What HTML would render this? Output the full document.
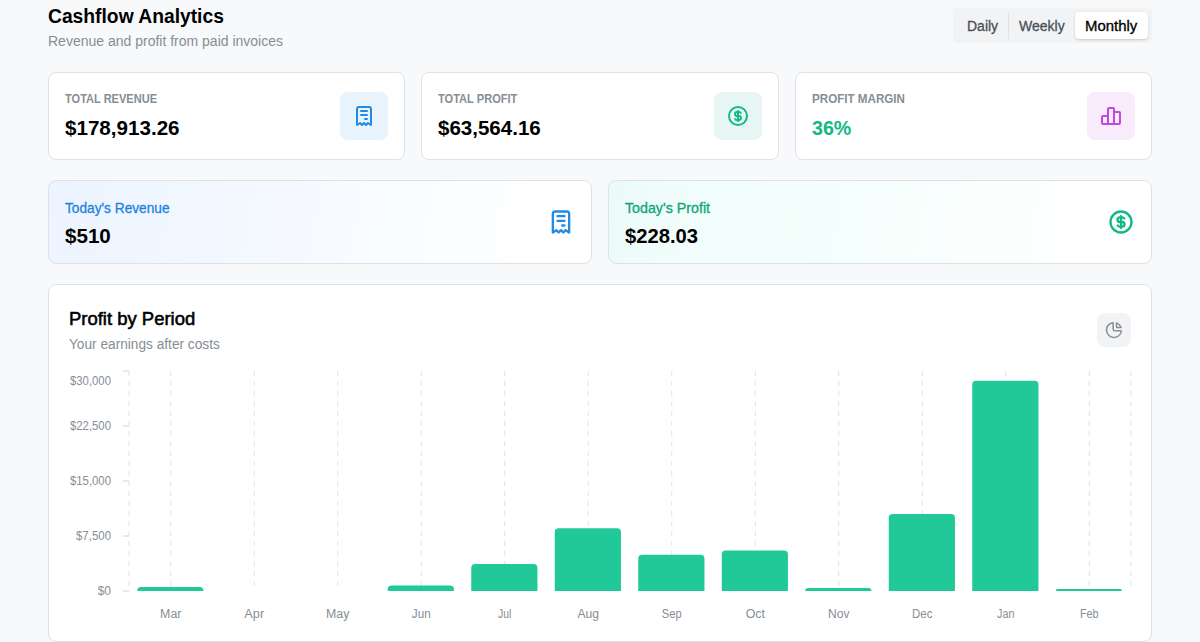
<!DOCTYPE html>
<html><head><meta charset="utf-8"><title>Cashflow Analytics</title>
<style>
*{box-sizing:border-box;margin:0;padding:0}
html,body{width:1200px;height:642px;overflow:hidden;background:#f8f9fa;font-family:"Liberation Sans",sans-serif;color:#000}
.abs{position:absolute}
.t{position:absolute;white-space:nowrap;line-height:1;transform-origin:0 50%}
.card{position:absolute;background:#fff;border:1px solid #dee2e6;border-radius:8px}
.lbl{font-size:12px;font-weight:700;color:#868e96}
.val{font-size:20px;font-weight:700;color:#000}
.ibox{position:absolute;width:48px;height:48px;border-radius:8px}
.ibox svg{position:absolute;left:12px;top:12px}
svg{display:block}
</style></head><body>
<div class="t" id="title" style="transform:scaleX(0.963);left:48px;top:6px;font-size:20px;font-weight:700;">Cashflow Analytics</div>
<div class="t" id="sub" style="left:48px;top:34px;font-size:14px;color:#868e96;">Revenue and profit from paid invoices</div>

<!-- segmented control -->
<div class="abs" style="left:953px;top:8px;width:199px;height:35px;background:#f1f3f5;border-radius:4px"></div>
<div class="abs" style="left:1008px;top:12px;width:1px;height:27px;background:#dee2e6"></div>
<div class="abs" style="left:1075px;top:12px;width:73px;height:27px;background:#fff;border-radius:4px;box-shadow:0 1px 3px rgba(0,0,0,.1),0 1px 2px rgba(0,0,0,.08)"></div>
<div class="t" id="sd" style="-webkit-text-stroke:0.3px currentColor;left:967px;top:19px;font-size:14px;color:#495057;">Daily</div>
<div class="t" id="sw" style="-webkit-text-stroke:0.3px currentColor;left:1019px;top:19px;font-size:14px;color:#495057;">Weekly</div>
<div class="t" id="sm" style="-webkit-text-stroke:0.3px currentColor;transform:scaleX(1.066);left:1085px;top:19px;font-size:14px;color:#000;">Monthly</div>

<!-- row 1 -->
<div class="card" style="left:48px;top:72px;width:357px;height:88px">
  <div class="t lbl" id="l1" style="transform:scaleX(0.92);left:16px;top:20px">TOTAL REVENUE</div>
  <div class="t val" id="v1" style="transform:scaleX(1.03);left:16px;top:45px">$178,913.26</div>
  <div class="ibox" style="left:291px;top:19px;background:#e8f3fb">
    <svg width="24" height="24" viewBox="0 0 24 24" fill="none" stroke="#228be6" stroke-width="2" stroke-linecap="round" stroke-linejoin="round"><path d="M5 21v-16a2 2 0 0 1 2 -2h10a2 2 0 0 1 2 2v16l-3 -2l-2 2l-2 -2l-2 2l-2 -2l-3 2m4 -14h6m-6 4h6m-2 4h2"/></svg>
  </div>
</div>
<div class="card" style="left:421px;top:72px;width:358px;height:88px">
  <div class="t lbl" id="l2" style="transform:scaleX(0.923);left:16px;top:20px">TOTAL PROFIT</div>
  <div class="t val" id="v2" style="transform:scaleX(1.026);left:16px;top:45px">$63,564.16</div>
  <div class="ibox" style="left:292px;top:19px;background:#e7f6f5">
    <svg width="24" height="24" viewBox="0 0 24 24" fill="none" stroke="#12b886" stroke-width="2" stroke-linecap="round" stroke-linejoin="round"><circle cx="12" cy="12" r="9"/><path d="M14.8 9a2 2 0 0 0 -1.8 -1h-2a2 2 0 1 0 0 4h2a2 2 0 1 1 0 4h-2a2 2 0 0 1 -1.8 -1"/><path d="M12 7v10"/></svg>
  </div>
</div>
<div class="card" style="left:795px;top:72px;width:357px;height:88px">
  <div class="t lbl" id="l3" style="transform:scaleX(0.968);left:16px;top:20px">PROFIT MARGIN</div>
  <div class="t val" id="v3" style="transform:scaleX(0.98);left:16px;top:45px;color:#12b886">36%</div>
  <div class="ibox" style="left:291px;top:19px;background:#f8ecfc">
    <svg width="24" height="24" viewBox="0 0 24 24" fill="none" stroke="#be4bdb" stroke-width="2" stroke-linecap="round" stroke-linejoin="round"><path d="M3 13a1 1 0 0 1 1 -1h4a1 1 0 0 1 1 1v6a1 1 0 0 1 -1 1h-4a1 1 0 0 1 -1 -1z"/><path d="M15 9a1 1 0 0 1 1 -1h4a1 1 0 0 1 1 1v10a1 1 0 0 1 -1 1h-4a1 1 0 0 1 -1 -1z"/><path d="M9 5a1 1 0 0 1 1 -1h4a1 1 0 0 1 1 1v14a1 1 0 0 1 -1 1h-4a1 1 0 0 1 -1 -1z"/><path d="M4 20h14"/></svg>
  </div>
</div>

<!-- row 2 -->
<div class="card" style="left:48px;top:180px;width:544px;height:84px;background:linear-gradient(100deg,#edf4ff 0%,#f3f8ff 35%,#fff 90%)">
  <div class="t" id="tl1" style="transform:scaleX(0.977);left:16px;top:20px;font-size:14px;-webkit-text-stroke:0.3px currentColor;color:#2084de">Today's Revenue</div>
  <div class="t val" id="tv1" style="transform:scaleX(1.03);left:16px;top:45px">$510</div>
  <svg style="position:absolute;left:498px;top:27px" width="28" height="28" viewBox="0 0 24 24" fill="none" stroke="#228be6" stroke-width="2" stroke-linecap="round" stroke-linejoin="round"><path d="M5 21v-16a2 2 0 0 1 2 -2h10a2 2 0 0 1 2 2v16l-3 -2l-2 2l-2 -2l-2 2l-2 -2l-3 2m4 -14h6m-6 4h6m-2 4h2"/></svg>
</div>
<div class="card" style="left:608px;top:180px;width:544px;height:84px;background:linear-gradient(100deg,#ecfaf7 0%,#f0fdfa 12%,#f4fefc 45%,#fff 85%)">
  <div class="t" id="tl2" style="transform:scaleX(1.017);left:16px;top:20px;font-size:14px;-webkit-text-stroke:0.3px currentColor;color:#0ca678">Today's Profit</div>
  <div class="t val" id="tv2" style="transform:scaleX(1.011);left:16px;top:45px">$228.03</div>
  <svg style="position:absolute;left:498px;top:27px" width="28" height="28" viewBox="0 0 24 24" fill="none" stroke="#12b886" stroke-width="2" stroke-linecap="round" stroke-linejoin="round"><circle cx="12" cy="12" r="9"/><path d="M14.8 9a2 2 0 0 0 -1.8 -1h-2a2 2 0 1 0 0 4h2a2 2 0 1 1 0 4h-2a2 2 0 0 1 -1.8 -1"/><path d="M12 7v10"/></svg>
</div>

<!-- chart card -->
<div class="card" id="chart" style="left:48px;top:284px;width:1104px;height:358px">
  <div class="t" id="ct" style="transform:scaleX(1.026);left:20px;top:25px;font-size:18px;font-weight:400;-webkit-text-stroke:0.55px #000">Profit by Period</div>
  <div class="t" id="cs" style="transform:scaleX(0.977);left:20px;top:52px;font-size:14px;color:#868e96">Your earnings after costs</div>
  <div class="abs" style="left:1048px;top:28px;width:34px;height:34px;border-radius:8px;background:#f1f3f5">
    <svg style="position:absolute;left:7px;top:7px" width="20" height="20" viewBox="0 0 24 24" fill="none" stroke="#868e96" stroke-width="1.8" stroke-linecap="round" stroke-linejoin="round"><path d="M10 3.2a9 9 0 1 0 10.8 10.8a1 1 0 0 0 -1 -1h-6.800a2 2 0 0 1 -2 -2v-7a.9 .9 0 0 0 -1 -.8"/><path d="M15 3.500a9 9 0 0 1 5.500 5.500h-4.500a1 1 0 0 1 -1 -1v-4.500"/></svg>
  </div>
</div>
<svg class="abs" id="plot" style="left:0;top:0" width="1200" height="642" viewBox="0 0 1200 642">
<g stroke="#dee2e6" stroke-width="1" stroke-dasharray="5 5" fill="none">
<line x1="129.00" y1="371.0" x2="129.00" y2="591.0"/>
<line x1="170.75" y1="371.0" x2="170.75" y2="591.0"/>
<line x1="254.25" y1="371.0" x2="254.25" y2="591.0"/>
<line x1="337.75" y1="371.0" x2="337.75" y2="591.0"/>
<line x1="421.25" y1="371.0" x2="421.25" y2="591.0"/>
<line x1="504.75" y1="371.0" x2="504.75" y2="591.0"/>
<line x1="588.25" y1="371.0" x2="588.25" y2="591.0"/>
<line x1="671.75" y1="371.0" x2="671.75" y2="591.0"/>
<line x1="755.25" y1="371.0" x2="755.25" y2="591.0"/>
<line x1="838.75" y1="371.0" x2="838.75" y2="591.0"/>
<line x1="922.25" y1="371.0" x2="922.25" y2="591.0"/>
<line x1="1005.75" y1="371.0" x2="1005.75" y2="591.0"/>
<line x1="1089.25" y1="371.0" x2="1089.25" y2="591.0"/>
<line x1="1131.00" y1="371.0" x2="1131.00" y2="591.0"/>
</g>
<g stroke="#ced4da" stroke-width="1" fill="none">
<line x1="123" y1="591.0" x2="129" y2="591.0"/>
<line x1="123" y1="536.0" x2="129" y2="536.0"/>
<line x1="123" y1="481.0" x2="129" y2="481.0"/>
<line x1="123" y1="426.0" x2="129" y2="426.0"/>
<line x1="123" y1="371.0" x2="129" y2="371.0"/>
</g>
<g fill="#20c997">
<path d="M137.25,591.0V591.00A4,4 0 0 1 141.25,587.00H199.45A4,4 0 0 1 203.45,591.00V591.0Z"/>
<path d="M387.75,591.0V589.60A4,4 0 0 1 391.75,585.60H449.95A4,4 0 0 1 453.95,589.60V591.0Z"/>
<path d="M471.25,591.0V567.90A4,4 0 0 1 475.25,563.90H533.45A4,4 0 0 1 537.45,567.90V591.0Z"/>
<path d="M554.75,591.0V532.20A4,4 0 0 1 558.75,528.20H616.95A4,4 0 0 1 620.95,532.20V591.0Z"/>
<path d="M638.25,591.0V558.80A4,4 0 0 1 642.25,554.80H700.45A4,4 0 0 1 704.45,558.80V591.0Z"/>
<path d="M721.75,591.0V554.50A4,4 0 0 1 725.75,550.50H783.95A4,4 0 0 1 787.95,554.50V591.0Z"/>
<path d="M805.25,591.0V591.00A3.0,3.0 0 0 1 808.25,588.00H868.45A3.0,3.0 0 0 1 871.45,591.00V591.0Z"/>
<path d="M888.75,591.0V518.10A4,4 0 0 1 892.75,514.10H950.95A4,4 0 0 1 954.95,518.10V591.0Z"/>
<path d="M972.25,591.0V384.75A4,4 0 0 1 976.25,380.75H1034.45A4,4 0 0 1 1038.45,384.75V591.0Z"/>
<path d="M1055.75,591.0V591.00A2.1000000000000227,2.1000000000000227 0 0 1 1057.85,588.90H1119.85A2.1000000000000227,2.1000000000000227 0 0 1 1121.95,591.00V591.0Z"/>
</g>
<g font-family="Liberation Sans, sans-serif" font-size="12" fill="#868e96">
<text x="111" y="595.3" text-anchor="end">$0</text>
<text x="111" y="540.3" text-anchor="end" textLength="35" lengthAdjust="spacingAndGlyphs">$7,500</text>
<text x="111" y="485.3" text-anchor="end" textLength="41" lengthAdjust="spacingAndGlyphs">$15,000</text>
<text x="111" y="430.3" text-anchor="end" textLength="41" lengthAdjust="spacingAndGlyphs">$22,500</text>
<text x="111" y="384.8" text-anchor="end" textLength="41" lengthAdjust="spacingAndGlyphs">$30,000</text>
<text x="170.75" y="618" text-anchor="middle" textLength="21.3" lengthAdjust="spacingAndGlyphs">Mar</text>
<text x="254.25" y="618" text-anchor="middle" textLength="19.8" lengthAdjust="spacingAndGlyphs">Apr</text>
<text x="337.75" y="618" text-anchor="middle" textLength="23.3" lengthAdjust="spacingAndGlyphs">May</text>
<text x="421.25" y="618" text-anchor="middle" textLength="18.8" lengthAdjust="spacingAndGlyphs">Jun</text>
<text x="504.75" y="618" text-anchor="middle" textLength="13.3" lengthAdjust="spacingAndGlyphs">Jul</text>
<text x="588.25" y="618" text-anchor="middle" textLength="21.6" lengthAdjust="spacingAndGlyphs">Aug</text>
<text x="671.75" y="618" text-anchor="middle" textLength="19.8" lengthAdjust="spacingAndGlyphs">Sep</text>
<text x="755.25" y="618" text-anchor="middle" textLength="19.2" lengthAdjust="spacingAndGlyphs">Oct</text>
<text x="838.75" y="618" text-anchor="middle" textLength="21.4" lengthAdjust="spacingAndGlyphs">Nov</text>
<text x="922.25" y="618" text-anchor="middle" textLength="20.3" lengthAdjust="spacingAndGlyphs">Dec</text>
<text x="1005.75" y="618" text-anchor="middle" textLength="17.4" lengthAdjust="spacingAndGlyphs">Jan</text>
<text x="1089.25" y="618" text-anchor="middle" textLength="18.7" lengthAdjust="spacingAndGlyphs">Feb</text>
</g>
</svg>
</body></html>
